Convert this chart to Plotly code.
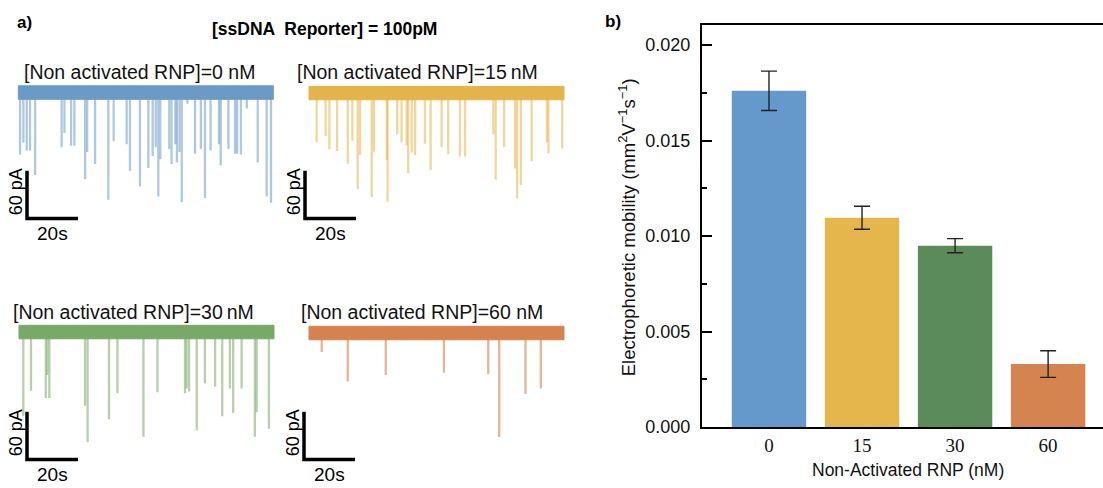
import plotly.graph_objects as go

W = 1103
H_FIG = 488   # figure height in px (positions below are in reference pixels)

# ---------------- Panel b data ----------------
rnp_labels = ["0", "15", "30", "60"]
mobility = [0.01761, 0.01096, 0.00950, 0.00330]
mobility_err = [0.00103, 0.00060, 0.00037, 0.00070]
bar_colors = ["#6699cb", "#e5b64b", "#5b8b5b", "#d5844f"]

# ---------------- Panel a data (time in s, event depth in pA) ----------------
trace_titles = [
    "[Non activated RNP]=0 nM",
    "[Non activated RNP]=15\u2009nM",
    "[Non activated RNP]=30\u2009nM",
    "[Non activated RNP]=60 nM",
]
band_colors = ["#6b9ac6", "#e3b44b", "#78a966", "#d4834e"]
spike_colors = ["rgba(107,154,198,0.55)", "rgba(227,180,75,0.55)",
                "rgba(120,169,102,0.55)", "rgba(212,131,78,0.6)"]

t_0nM = [0.7, 2.0, 3.3, 4.6, 6.6, 17.0, 18.1, 20.7, 22.0, 26.2, 27.0, 30.1, 35.3,
         37.4, 42.5, 43.8, 47.7, 51.0, 52.7, 53.9, 54.9, 55.7, 59.2, 60.1, 61.6,
         62.2, 63.2, 64.1, 66.3, 69.3, 71.6, 73.2, 75.4, 78.7, 79.4, 82.4, 85.0,
         85.8, 87.3, 89.6, 93.9, 97.4, 99.1]
d_0nM = [78, 63, 73, 73, 104, 69, 51, 67, 67, 109, 75, 90, 135,
         61, 65, 99, 118, 95, 80, 69, 131, 84, 71, 90, 65,
         88, 75, 138, 14, 77, 71, 133, 73, 65, 92, 71, 77,
         77, 78, 20, 88, 131, 139]

t_15nM = [3.0, 6.5, 8.0, 11.0, 15.2, 17.0, 19.1, 20.0, 24.6, 25.5, 30.5, 30.8,
          34.6, 36.3, 38.3, 38.9, 40.3, 41.6, 45.5, 47.7, 52.0, 54.6, 59.2, 61.2,
          72.3, 73.2, 76.5, 80.8, 81.6, 83.1, 87.3, 93.3, 93.9, 99.3]
d_15nM = [62, 54, 71, 73, 89, 60, 121, 78, 131, 74, 84, 137,
          52, 62, 66, 101, 75, 78, 64, 97, 68, 77, 80, 80,
          52, 109, 68, 95, 133, 116, 86, 62, 76, 70]

t_30nM = [1.7, 4.7, 10.5, 11.1, 11.9, 25.9, 26.9, 35.3, 38.6, 48.8, 54.3, 65.1,
          65.7, 66.7, 69.7, 72.9, 76.9, 79.7, 82.7, 84.0, 87.3, 92.5, 93.2, 98.0]
d_30nM = [106, 74, 83, 54, 83, 93, 139, 110, 77, 132, 76, 77,
          71, 75, 124, 65, 69, 106, 71, 102, 71, 132, 101, 122]

t_60nM = [5.0, 15.2, 30.1, 52.9, 70.3, 74.6, 84.9, 90.9]
d_60nM = [24, 61, 53, 50, 52, 131, 77, 70]

event_times = [t_0nM, t_15nM, t_30nM, t_60nM]
event_depths = [d_0nM, d_15nM, d_30nM, d_60nM]
trace_duration = 100.0      # s
band_half = 8.5             # pA (open-pore noise half width)
scale_pA = 60
scale_s = 20

# ---------------- geometry (pixels) ----------------
SX = 2.55   # px per s
SY = 0.81   # px per pA
panels = [
    dict(x0=18.3, y0=94.5, box=(0, 290, 60, 245), bar=(27, 223), title=(139.5, 73)),
    dict(x0=309, y0=95, box=(290, 600, 60, 245), bar=(305, 223), title=(417.5, 73)),
    dict(x0=19, y0=339, box=(0, 290, 300, H_FIG), bar=(27, 469), title=(133.5, 319)),
    dict(x0=309, y0=340, box=(290, 600, 300, H_FIG), bar=(304, 469), title=(421.5, 319)),
]


def fy(py):
    return 1 - py / H_FIG


fig = go.Figure()

xpos = list(range(len(rnp_labels)))
fig.add_trace(go.Bar(
    x=xpos, y=mobility, width=0.8,
    marker=dict(color=bar_colors, line=dict(width=0)),
    error_y=dict(type="data", array=mobility_err, visible=True,
                 color="#222222", thickness=1.4, width=8),
    xaxis="x", yaxis="y", showlegend=False,
))

FONT = "Arial, Liberation Sans, sans-serif"
annotations = []
layout_axes = {}

for i, p in enumerate(panels):
    k = i + 2
    xa, ya = f"x{k}", f"y{k}"
    L, R, T, B = p["box"]
    xr = [(L - p["x0"]) / SX, (R - p["x0"]) / SX]
    yr = [-(B - p["y0"]) / SY, -(T - p["y0"]) / SY]
    layout_axes[f"xaxis{k}"] = dict(domain=[L / W, R / W], range=xr, visible=False,
                                    fixedrange=True, anchor=ya)
    layout_axes[f"yaxis{k}"] = dict(domain=[fy(B), fy(T)], range=yr,
                                    visible=False, fixedrange=True, anchor=xa)
    sx, sy = [], []
    for t, d in zip(event_times[i], event_depths[i]):
        sx += [t, t, None]
        sy += [0, -d, None]
    fig.add_trace(go.Scatter(x=sx, y=sy, mode="lines",
                             line=dict(color=spike_colors[i], width=2.3),
                             xaxis=xa, yaxis=ya, showlegend=False, hoverinfo="skip"))
    fig.add_trace(go.Scatter(
        x=[0, trace_duration, trace_duration, 0, 0],
        y=[band_half, band_half, -band_half, -band_half, band_half],
        mode="lines", fill="toself", fillcolor=band_colors[i],
        line=dict(color=band_colors[i], width=1),
        xaxis=xa, yaxis=ya, showlegend=False, hoverinfo="skip"))
    bx, by = p["bar"]
    t0 = (bx - p["x0"]) / SX
    v0 = -(by - p["y0"]) / SY
    fig.add_trace(go.Scatter(x=[t0, t0, t0 + scale_s], y=[v0 + scale_pA, v0, v0],
                             mode="lines", line=dict(color="black", width=3.5),
                             xaxis=xa, yaxis=ya, showlegend=False, hoverinfo="skip"))
    annotations.append(dict(x=t0 - 11 / SX, y=v0 + scale_pA / 2 + 3, xref=xa, yref=ya,
                            text=f"{scale_pA} pA", textangle=-90, showarrow=False,
                            font=dict(size=18, color="black", family=FONT),
                            xanchor="center", yanchor="middle"))
    annotations.append(dict(x=t0 + scale_s / 2, y=v0 - 3 / SY, xref=xa, yref=ya,
                            text=f"{scale_s}s", showarrow=False,
                            font=dict(size=19, color="black", family=FONT),
                            xanchor="center", yanchor="top"))
    tx, ty = p["title"]
    annotations.append(dict(x=tx / W, y=fy(ty), xref="paper", yref="paper",
                            text=trace_titles[i], showarrow=False,
                            font=dict(size=19.5, color="#111111", family=FONT),
                            xanchor="center", yanchor="middle"))

annotations += [
    dict(x=24 / W, y=fy(23), xref="paper", yref="paper", text="<b>a)</b>",
         showarrow=False, xanchor="center", yanchor="middle",
         font=dict(size=17, color="black", family=FONT)),
    dict(x=613 / W, y=fy(22), xref="paper", yref="paper", text="<b>b)</b>",
         showarrow=False, xanchor="center", yanchor="middle",
         font=dict(size=17, color="black", family=FONT)),
    dict(x=324 / W, y=fy(30), xref="paper", yref="paper",
         text="<b>[ssDNA  Reporter] = 100pM</b>", xanchor="center", yanchor="middle",
         showarrow=False, font=dict(size=17.5, color="black", family=FONT)),
    dict(x=908 / W, y=fy(480), xref="paper", yref="paper",
         text="Non-Activated RNP (nM)", showarrow=False,
         xanchor="center", yanchor="middle",
         font=dict(size=17.5, color="#111111", family=FONT)),
    dict(x=627 / W, y=fy(232), xref="paper", yref="paper",
         text="Electrophoretic mobility (mm<sup>2</sup>V<sup>\u22121</sup>s<sup>\u22121</sup>)",
         textangle=-90, showarrow=False, xanchor="center", yanchor="middle",
         font=dict(size=18.5, color="#111111", family=FONT)),
]

bx0, bx1 = 702, 1103
by0, by1 = 26, 436
fig.update_layout(
    width=W, height=H_FIG, autosize=False,
    margin=dict(l=0, r=0, t=0, b=0, pad=0),
    paper_bgcolor="white", plot_bgcolor="white",
    showlegend=False,
    annotations=annotations,
    xaxis=dict(domain=[bx0 / W, bx1 / W], range=[-0.72, 3.59],
               tickvals=xpos, ticktext=rnp_labels, ticks="",
               ticklabelstandoff=0,
               showline=True, linecolor="black", linewidth=2.2, mirror=True,
               showgrid=False, zeroline=False, fixedrange=True,
               tickfont=dict(family="Times New Roman, Liberation Serif, serif",
                             size=19, color="#111111"),
               anchor="y"),
    yaxis=dict(domain=[fy(by1), fy(by0)], range=[0, 0.02103],
               tickvals=[0, 0.005, 0.010, 0.015, 0.020],
               ticktext=["0.000", "0.005", "0.010", "0.015", "0.020"],
               ticks="inside", ticklen=10, tickwidth=2, tickcolor="black",
               ticklabelstandoff=6,
               minor=dict(tickvals=[0.0025, 0.0075, 0.0125, 0.0175],
                          ticks="inside", ticklen=5, tickwidth=2, tickcolor="black"),
               showline=True, linecolor="black", linewidth=2.2, mirror=False,
               showgrid=False, zeroline=False, fixedrange=True,
               tickfont=dict(family=FONT, size=18, color="#111111"),
               anchor="x"),
    **layout_axes,
)

fig.write_html("out.html", config={"responsive": False})
